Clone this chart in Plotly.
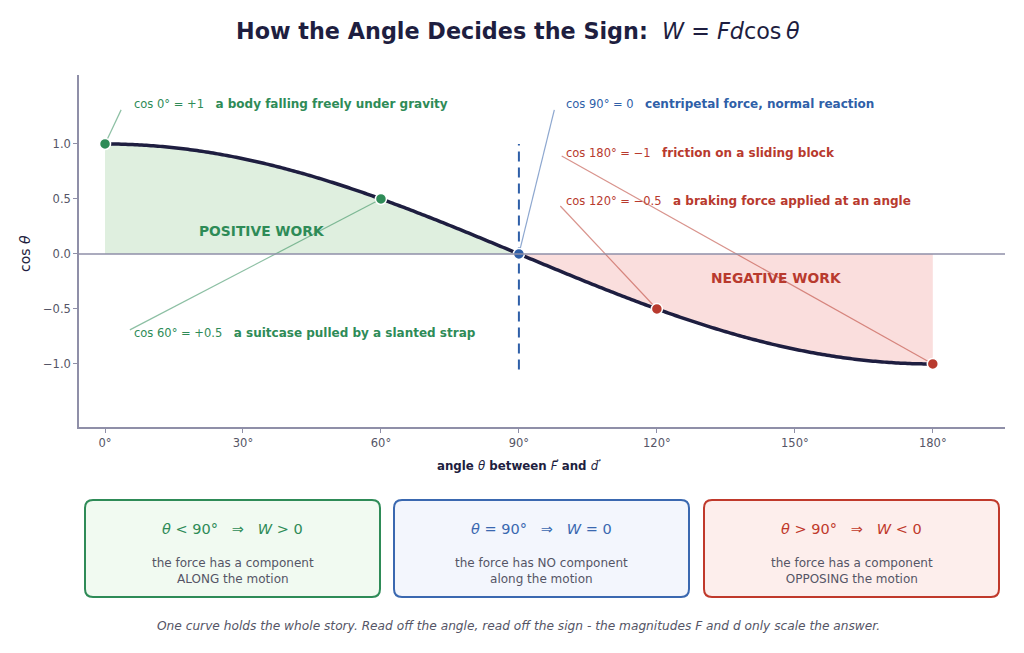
import numpy as np
import plotly.graph_objects as go

# ---------------- data ----------------
key_angles = [0, 60, 90, 120, 180]
key_cos = [1.0, 0.5, 0.0, -0.5, -1.0]
key_colors = ["#2e8b57", "#2e8b57", "#2f5fa8", "#b83a2e", "#b83a2e"]
x_ticks = [0, 30, 60, 90, 120, 150, 180]
x_tick_text = ["0°", "30°", "60°", "90°", "120°", "150°", "180°"]
y_ticks = [-1.0, -0.5, 0.0, 0.5, 1.0]
y_tick_text = ["−1.0", "−0.5", "0.0", "0.5", "1.0"]

curve_theta = np.linspace(0, 180, 361)
curve_cos = np.cos(np.radians(curve_theta))

labels_math = ["cos 0° = +1", "cos 60° = +0.5", "cos 90° = 0", "cos 180° = −1", "cos 120° = −0.5"]
labels_desc = ["a body falling freely under gravity", "a suitcase pulled by a slanted strap",
               "centripetal force, normal reaction", "friction on a sliding block",
               "a braking force applied at an angle"]
labels_point = [(0, 1.0), (60, 0.5), (90, 0.0), (180, -1.0), (120, -0.5)]
labels_pos = [(5.9, 1.364), (5.9, -0.718), (99.7, 1.364), (99.7, 0.918), (99.7, 0.482)]
labels_lead = [(3.5, 1.31), (5.4, -0.69), (97.7, 1.31), (99.3, 0.89), (99.0, 0.436)]
labels_color = ["#2e8b57", "#2e8b57", "#2f5fa8", "#b83a2e", "#b83a2e"]
lead_color = ["rgba(46,139,87,0.55)", "rgba(46,139,87,0.55)", "rgba(47,95,168,0.55)",
              "rgba(184,58,46,0.55)", "rgba(184,58,46,0.55)"]

box_math = ["<i>θ</i> < 90°   ⇒   <i>W</i> > 0", "<i>θ</i> = 90°   ⇒   <i>W</i> = 0",
            "<i>θ</i> > 90°   ⇒   <i>W</i> < 0"]
box_text = ["the force has a component<br>ALONG the motion",
            "the force has NO component<br>along the motion",
            "the force has a component<br>OPPOSING the motion"]
box_edge = ["#2e8b57", "#3a68b0", "#c0392b"]
box_fill = ["#f1faf1", "#f3f6fd", "#fdeeec"]
box_left_px = [85, 394, 704]

W, H = 1024, 653
NAVY = "#1e1e40"
GRAY = "#555566"
SPINE = "#8f8fa8"


def px(x):
    return x / W


def py(y):
    return 1 - y / H


def note(x, y, text, size, color, **kw):
    fig.add_annotation(x=px(x), y=py(y), xref="paper", yref="paper", xanchor="center", yanchor="middle",
                       text=text, showarrow=False, font=dict(family="DejaVu Sans", size=size, color=color), **kw)


fig = go.Figure()

# fills
pos = curve_theta <= 90
neg = curve_theta >= 90
fig.add_trace(go.Scatter(x=curve_theta[pos], y=curve_cos[pos], mode="lines", line=dict(width=0),
                         fill="tozeroy", fillcolor="#dfefdf", hoverinfo="skip", showlegend=False))
fig.add_trace(go.Scatter(x=curve_theta[neg], y=curve_cos[neg], mode="lines", line=dict(width=0),
                         fill="tozeroy", fillcolor="#fadedd", hoverinfo="skip", showlegend=False))

# zero line
fig.add_shape(type="line", xref="x domain", yref="y", x0=0, x1=1, y0=0, y1=0,
              line=dict(color=SPINE, width=1.6), layer="above")

# dashed 90 line
fig.add_trace(go.Scatter(x=[90, 90], y=[-1.05, 1.0], mode="lines",
                         line=dict(color="#2f5fa8", width=2, dash="10px,6px"),
                         hoverinfo="skip", showlegend=False))

# leader lines
for (p, l, c) in zip(labels_point, labels_lead, lead_color):
    fig.add_trace(go.Scatter(x=[p[0], l[0]], y=[p[1], l[1]], mode="lines",
                             line=dict(color=c, width=1.2), hoverinfo="skip", showlegend=False))

# curve
fig.add_trace(go.Scatter(x=curve_theta, y=curve_cos, mode="lines",
                         line=dict(color=NAVY, width=3.5, simplify=False), hoverinfo="skip", showlegend=False))

# key markers
fig.add_trace(go.Scatter(x=key_angles, y=key_cos, mode="markers",
                         marker=dict(size=11, color=key_colors, line=dict(color="white", width=1.5)),
                         hoverinfo="skip", showlegend=False))

# labels
for (m, d, ps, c) in zip(labels_math, labels_desc, labels_pos, labels_color):
    fig.add_annotation(x=ps[0], y=ps[1], xref="x", yref="y", xanchor="left", yanchor="middle",
                       text="<span style='font-size:11.5px'>" + m + "</span>\u00a0\u00a0\u00a0<b>" + d + "</b>",
                       showarrow=False, font=dict(family="DejaVu Sans", size=12, color=c))

note(262, 231, "<b>POSITIVE WORK</b>", 13.8, "#2e8b57")
note(776, 278, "<b>NEGATIVE WORK</b>", 13.8, "#b83a2e")

# title
note(518, 31, "<b>How the Angle Decides the Sign:</b>\u00a0\u00a0<i>W</i> = <i>Fd</i>cos\u2009<i>θ</i>", 22.3, NAVY)

# axis titles
note(519, 466, "<b>angle </b><i>θ</i><b> between </b><i>F\u20d7</i><b> and </b><i>d\u20d7</i>", 11.8, NAVY)
note(25, 254, "cos <i>θ</i>", 14, NAVY, textangle=-90)

# boxes
bw, bh, btop = 295, 97, 500
rx, ry = px(8), 8 / H
for i in range(3):
    x0, x1 = px(box_left_px[i]), px(box_left_px[i] + bw)
    y1, y0 = py(btop), py(btop + bh)
    path = (f"M {x0+rx} {y0} L {x1-rx} {y0} Q {x1} {y0} {x1} {y0+ry} L {x1} {y1-ry} "
            f"Q {x1} {y1} {x1-rx} {y1} L {x0+rx} {y1} Q {x0} {y1} {x0} {y1-ry} "
            f"L {x0} {y0+ry} Q {x0} {y0} {x0+rx} {y0} Z")
    fig.add_shape(type="path", path=path, xref="paper", yref="paper",
                  line=dict(color=box_edge[i], width=2), fillcolor=box_fill[i], layer="below")
    cx = box_left_px[i] + bw / 2
    note(cx, 529, box_math[i], 14.5, box_edge[i])
    note(cx, 571, box_text[i], 12, GRAY)

note(518, 626, "<i>One curve holds the whole story. Read off the angle, read off the sign - "
               "the magnitudes F and d only scale the answer.</i>", 12.2, GRAY)

fig.update_layout(
    width=W, height=H, margin=dict(l=0, r=0, t=0, b=0),
    paper_bgcolor="white", plot_bgcolor="white", showlegend=False,
    font=dict(family="DejaVu Sans"),
    xaxis=dict(domain=[px(79), px(1005)], range=[-5.66, 195.7], tickvals=x_ticks, ticktext=x_tick_text,
               showgrid=False, zeroline=False, showline=True, linecolor=SPINE, linewidth=1.6,
               ticks="outside", ticklen=4, tickcolor=SPINE, tickfont=dict(size=11.5, color=GRAY)),
    yaxis=dict(domain=[py(427), py(75)], range=[-1.573, 1.627], tickvals=y_ticks, ticktext=y_tick_text,
               showgrid=False, zeroline=False, showline=True, linecolor=SPINE, linewidth=1.6,
               ticks="outside", ticklen=4, tickcolor=SPINE, tickfont=dict(size=11.5, color=GRAY)),
)

fig.write_html("out.html", config={"displayModeBar": False})
with open("out.html", "r", encoding="utf-8") as f:
    html = f.read()
html = html.replace("<head>", "<head><style>html,body{margin:0;padding:0;overflow:hidden}</style>", 1)
with open("out.html", "w", encoding="utf-8") as f:
    f.write(html)
